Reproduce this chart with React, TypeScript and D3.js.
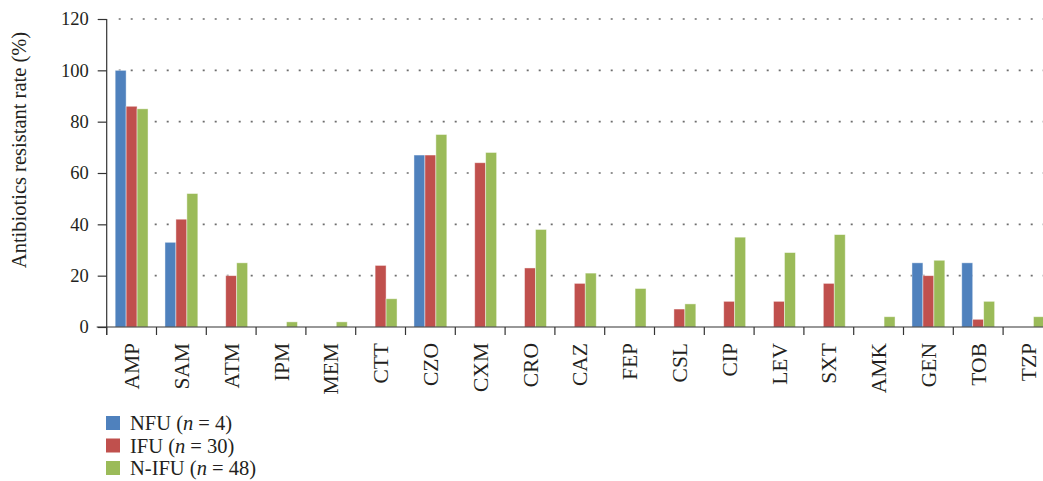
import React, { useEffect, useRef } from 'react';
import * as d3 from 'd3';

const drugs = ['AMP', 'SAM', 'ATM', 'IPM', 'MEM', 'CTT', 'CZO', 'CXM', 'CRO', 'CAZ', 'FEP', 'CSL', 'CIP', 'LEV', 'SXT', 'AMK', 'GEN', 'TOB', 'TZP'];
const nfu = [100, 33, 0, 0, 0, 0, 67, 0, 0, 0, 0, 0, 0, 0, 0, 0, 25, 25, 0];
const ifu = [86, 42, 20, 0, 0, 24, 67, 64, 23, 17, 0, 7, 10, 10, 17, 0, 20, 3, 0];
const nifu = [85, 52, 25, 2, 2, 11, 75, 68, 38, 21, 15, 9, 35, 29, 36, 4, 26, 10, 4];
const seriesNames = ['NFU', 'IFU', 'N-IFU'];
const seriesN = [4, 30, 48];
const colors = ['#4F81BD', '#C0504D', '#9BBB59'];
const yTicks = [0, 20, 40, 60, 80, 100, 120];

export default function App() {
    const ref = useRef(null);

    useEffect(() => {
        const width = 1043, height = 481;
        const left = 106.7, top = 19, bottom = 327;
        const band = 49.8;
        const font = '"Liberation Serif", "Times New Roman", serif';

        const svg = d3.select(ref.current);
        svg.selectAll('*').remove();

        const x = d3.scaleBand()
            .domain(drugs)
            .range([left, left + band * drugs.length])
            .paddingInner(0.34)
            .paddingOuter(0.17);

        const y = d3.scaleLinear()
            .domain([0, 120])
            .range([bottom, top]);

        const sub = d3.scaleBand()
            .domain(seriesNames)
            .range([0, x.bandwidth()]);

        // dotted grid
        svg.append('g')
            .selectAll('line')
            .data(yTicks.filter(d => d > 0))
            .join('line')
            .attr('x1', left + 12)
            .attr('x2', width)
            .attr('y1', d => y(d))
            .attr('y2', d => y(d))
            .style('stroke', '#6e6e6e')
            .style('stroke-width', 1.6)
            .style('stroke-dasharray', '2,10');

        // bars
        const data = [nfu, ifu, nifu];
        data.forEach((vals, si) => {
            svg.append('g')
                .selectAll('rect')
                .data(vals)
                .join('rect')
                .attr('x', (d, i) => x(drugs[i]) + sub(seriesNames[si]))
                .attr('y', d => y(d))
                .attr('width', sub.bandwidth())
                .attr('height', d => bottom - y(d))
                .style('fill', colors[si])
                .style('stroke', 'rgba(255,255,255,0.55)')
                .style('stroke-width', 0.8)
                .style('display', d => d > 0 ? null : 'none');
        });

        // y axis
        const yAxis = d3.axisLeft(y)
            .tickValues(yTicks)
            .tickSize(9)
            .tickPadding(9);
        const gy = svg.append('g')
            .attr('transform', 'translate(' + left + ',0)')
            .call(yAxis);
        gy.select('.domain').remove();
        gy.selectAll('line').style('stroke', '#333').style('stroke-width', 1.2);
        gy.selectAll('text')
            .style('font-family', font)
            .style('font-size', '18.5px')
            .style('fill', '#231f20');
        svg.append('line')
            .attr('x1', left).attr('x2', left)
            .attr('y1', top).attr('y2', bottom + 8)
            .style('stroke', '#333').style('stroke-width', 1.2);

        // x axis
        svg.append('line')
            .attr('x1', left - 10).attr('x2', width)
            .attr('y1', bottom).attr('y2', bottom)
            .style('stroke', '#333').style('stroke-width', 1.2);
        svg.append('g')
            .selectAll('line')
            .data(d3.range(drugs.length + 1))
            .join('line')
            .attr('x1', i => left + band * i)
            .attr('x2', i => left + band * i)
            .attr('y1', bottom)
            .attr('y2', bottom + 8)
            .style('stroke', '#333')
            .style('stroke-width', 1.2);
        svg.append('g')
            .selectAll('text')
            .data(drugs)
            .join('text')
            .attr('transform', d => 'translate(' + (x(d) + x.bandwidth() / 2) + ',' + (bottom + 16) + ') rotate(-90)')
            .attr('text-anchor', 'end')
            .attr('dy', '0.35em')
            .style('font-family', font)
            .style('font-size', '21.5px')
            .style('fill', '#231f20')
            .text(d => d);

        // y title
        svg.append('text')
            .attr('transform', 'translate(26,' + 150 + ') rotate(-90)')
            .attr('text-anchor', 'middle')
            .style('font-family', font)
            .style('font-size', '20.5px')
            .style('fill', '#231f20')
            .text('Antibiotics resistant rate (%)');

        // legend
        const lg = svg.append('g');
        seriesNames.forEach((name, i) => {
            const cy = 423 + i * 22.5;
            lg.append('rect')
                .attr('x', 106)
                .attr('y', cy - 7)
                .attr('width', 14)
                .attr('height', 14)
                .style('fill', colors[i]);
            const t = lg.append('text')
                .attr('x', 130)
                .attr('y', cy)
                .attr('dy', '0.35em')
                .style('font-family', font)
                .style('font-size', '20.5px')
                .style('fill', '#231f20');
            t.append('tspan').text(name + ' (');
            t.append('tspan').style('font-style', 'italic').text('n');
            t.append('tspan').text(' = ' + seriesN[i] + ')');
        });
    }, []);

    return (
        <svg ref={ref} width={1043} height={481}
            style={{ position: 'absolute', left: 0, top: 0, background: '#fff' }}></svg>
    );
}
